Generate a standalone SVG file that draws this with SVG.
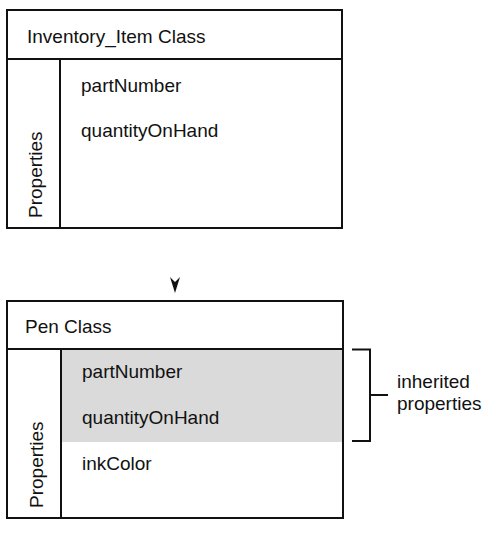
<svg xmlns="http://www.w3.org/2000/svg" width="500" height="536" viewBox="0 0 500 536">
<style>
.box{fill:#fff;stroke:#111;stroke-width:2}
.ln{stroke:#111;stroke-width:2;fill:none}
.t{font-family:"Liberation Sans",Arial,sans-serif;font-size:19px;fill:#111}
.shade{fill:#dadada}
</style>
<rect width="500" height="536" fill="#fff"/>
<g id="inventory_item">
<rect class="box" x="7" y="10" width="335" height="218"/>
<line class="ln" x1="7" y1="59" x2="342" y2="59"/>
<line class="ln" x1="60" y1="59" x2="60" y2="228"/>
<text class="t" x="27" y="43">Inventory_Item Class</text>
<text class="t" x="81" y="92">partNumber</text>
<text class="t" x="81" y="137">quantityOnHand</text>
<text class="t" transform="translate(42,218) rotate(-90)">Properties</text>
</g>
<g id="connectors">
<polygon points="170,277 175,282 180,277 175,293" fill="#111"/>
</g>
<g id="pen">
<rect class="box" x="7" y="301" width="336" height="217"/>
<rect class="shade" x="61" y="349" width="282" height="93"/>
<line class="ln" x1="7" y1="349" x2="343" y2="349"/>
<line class="ln" x1="61" y1="349" x2="61" y2="518"/>
<rect x="7" y="301" width="336" height="217" fill="none" stroke="#111" stroke-width="2"/>
<text class="t" x="25" y="333">Pen Class</text>
<text class="t" x="82" y="378">partNumber</text>
<text class="t" x="82" y="424">quantityOnHand</text>
<text class="t" x="82" y="470">inkColor</text>
<text class="t" transform="translate(43,508) rotate(-90)">Properties</text>
</g>
<g id="inherited">
<path class="ln" d="M352,349.5 H370 V441 H352 M370,395 H388"/>
<text class="t" x="397" y="388">inherited</text>
<text class="t" x="397" y="410">properties</text>
</g>
</svg>
